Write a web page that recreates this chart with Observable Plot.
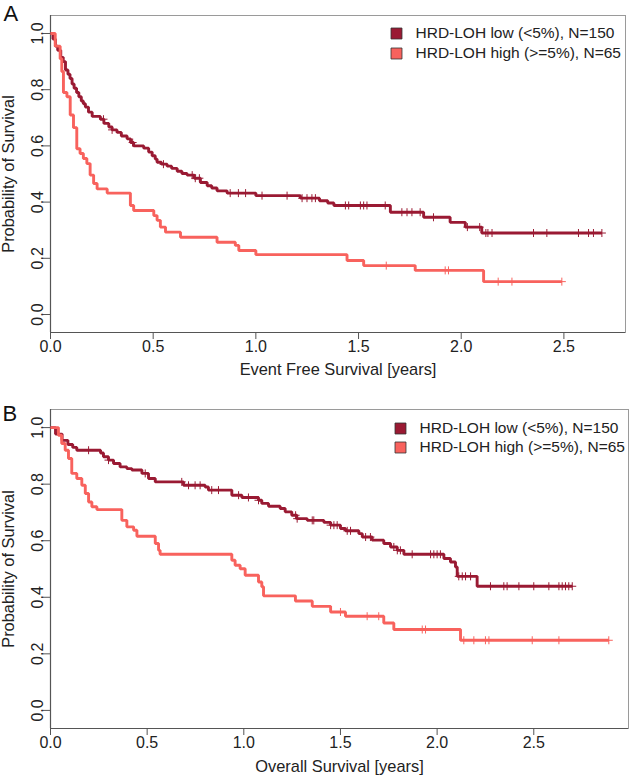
<!DOCTYPE html>
<html>
<head>
<meta charset="utf-8">
<script src="https://cdn.jsdelivr.net/npm/d3@7"></script>
<script src="https://cdn.jsdelivr.net/npm/@observablehq/plot@0.6"></script>
<style>
  html, body { margin: 0; padding: 0; background: #fff; }
  #chart { width: 633px; }
  #chart svg { display: block; }
</style>
</head>
<body>
<div id="chart"></div>
<script>
// ---------- Data ----------
const seriesNames = ["HRD-LOH low (<5%), N=150", "HRD-LOH high (>=5%), N=65"];
const seriesColors = ["#9A1A33", "#F8625D"];
const xTicks = [0, 0.5, 1.0, 1.5, 2.0, 2.5];
const yTicks = [0, 0.2, 0.4, 0.6, 0.8, 1.0];

// Panel A: Event Free Survival
const aLowT = [0, 0.012, 0.024, 0.035, 0.05, 0.062, 0.073, 0.085, 0.095, 0.105, 0.115, 0.127, 0.138, 0.15, 0.16, 0.17, 0.185, 0.203, 0.243, 0.26, 0.284, 0.30, 0.324, 0.345, 0.373, 0.39, 0.405, 0.454, 0.478, 0.495, 0.51, 0.519, 0.54, 0.568, 0.59, 0.617, 0.64, 0.665, 0.70, 0.73, 0.763, 0.785, 0.811, 0.86, 1.0, 1.217, 1.31, 1.35, 1.38, 1.655, 1.817, 1.946, 2.02, 2.10];
const aLowS = [1.0, 0.98, 0.955, 0.94, 0.915, 0.90, 0.87, 0.855, 0.84, 0.82, 0.805, 0.79, 0.775, 0.76, 0.75, 0.738, 0.72, 0.705, 0.695, 0.68, 0.667, 0.657, 0.648, 0.635, 0.625, 0.612, 0.60, 0.592, 0.578, 0.565, 0.553, 0.542, 0.535, 0.528, 0.52, 0.51, 0.502, 0.496, 0.485, 0.47, 0.458, 0.45, 0.44, 0.432, 0.423, 0.414, 0.405, 0.397, 0.388, 0.364, 0.346, 0.328, 0.311, 0.29];
const aLowCens = [0.258, 0.30, 0.40, 0.55, 0.69, 0.705, 0.725, 0.875, 0.915, 0.95, 1.03, 1.152, 1.225, 1.249, 1.273, 1.29, 1.436, 1.452, 1.509, 1.525, 1.541, 1.63, 1.711, 1.736, 1.76, 1.80, 1.865, 2.03, 2.09, 2.12, 2.13, 2.15, 2.352, 2.417, 2.571, 2.62, 2.644, 2.685];

const aHighT = [0, 0.023, 0.047, 0.055, 0.063, 0.08, 0.096, 0.112, 0.128, 0.144, 0.16, 0.177, 0.193, 0.21, 0.227, 0.276, 0.389, 0.405, 0.503, 0.519, 0.535, 0.56, 0.633, 0.811, 0.90, 0.917, 1.0, 1.444, 1.525, 1.776, 2.109];
const aHighS = [1.0, 0.955, 0.91, 0.865, 0.79, 0.775, 0.71, 0.665, 0.59, 0.573, 0.555, 0.537, 0.496, 0.466, 0.447, 0.432, 0.388, 0.37, 0.352, 0.335, 0.311, 0.293, 0.275, 0.257, 0.246, 0.228, 0.213, 0.192, 0.174, 0.157, 0.117];
const aHighCens = [1.635, 1.922, 1.938, 2.18, 2.247, 2.49];

// Panel B: Overall Survival
const bLowT = [0, 0.026, 0.06, 0.09, 0.115, 0.136, 0.259, 0.274, 0.30, 0.326, 0.36, 0.395, 0.421, 0.473, 0.507, 0.542, 0.688, 0.80, 0.817, 0.938, 0.99, 1.076, 1.093, 1.128, 1.188, 1.214, 1.248, 1.274, 1.328, 1.414, 1.449, 1.50, 1.526, 1.595, 1.613, 1.664, 1.724, 1.759, 1.794, 1.828, 2.035, 2.069, 2.095, 2.104, 2.207];
const bLowS = [1.0, 0.977, 0.955, 0.94, 0.93, 0.92, 0.91, 0.897, 0.885, 0.873, 0.861, 0.855, 0.85, 0.838, 0.82, 0.808, 0.796, 0.79, 0.779, 0.761, 0.753, 0.743, 0.732, 0.722, 0.714, 0.702, 0.69, 0.678, 0.672, 0.665, 0.655, 0.643, 0.635, 0.625, 0.613, 0.602, 0.59, 0.578, 0.566, 0.552, 0.537, 0.525, 0.507, 0.474, 0.439];
const bLowCens = [0.197, 0.30, 0.49, 0.679, 0.714, 0.748, 0.774, 0.834, 0.869, 0.973, 1.024, 1.076, 1.268, 1.276, 1.354, 1.362, 1.449, 1.466, 1.483, 1.535, 1.552, 1.63, 1.655, 1.776, 1.794, 1.81, 1.871, 1.966, 1.983, 2.0, 2.017, 2.112, 2.13, 2.147, 2.173, 2.276, 2.345, 2.362, 2.423, 2.50, 2.578, 2.63, 2.647, 2.664, 2.681, 2.699];

const bHighT = [0, 0.041, 0.058, 0.076, 0.093, 0.11, 0.136, 0.162, 0.18, 0.197, 0.214, 0.24, 0.369, 0.395, 0.43, 0.447, 0.542, 0.559, 0.567, 0.938, 0.955, 0.981, 1.007, 1.076, 1.093, 1.102, 1.267, 1.354, 1.449, 1.526, 1.724, 1.776, 2.121];
const bHighS = [1.0, 0.973, 0.944, 0.92, 0.891, 0.838, 0.82, 0.796, 0.767, 0.737, 0.72, 0.71, 0.672, 0.649, 0.637, 0.616, 0.59, 0.566, 0.552, 0.531, 0.513, 0.501, 0.478, 0.454, 0.437, 0.405, 0.387, 0.368, 0.348, 0.333, 0.309, 0.286, 0.248];
const bHighCens = [1.50, 1.638, 1.698, 1.923, 1.94, 2.138, 2.19, 2.25, 2.268, 2.492, 2.63, 2.888];

// ---------- Helpers ----------
function stepRows(T, S, C, group) {
  const end = Math.max(T[T.length - 1], ...C);
  const rows = T.map((t, i) => ({t, s: S[i], group}));
  rows.push({t: end, s: S[S.length - 1], group});
  return rows;
}
function censRows(T, S, C, group) {
  return C.map(c => ({t: c, s: S[Math.max(0, d3.bisectRight(T, c) - 1)], group}));
}

const FONT = "'Liberation Sans', Arial, Helvetica, sans-serif";
const Y_DOMAIN = [-0.064, 1.064];

function legendMarks(o) {
  const marks = [];
  seriesNames.forEach((name, i) => {
    marks.push(Plot.dot([name], {frameAnchor: "top-right", dx: o.legSqDx, dy: o.legDy[i], fill: seriesColors[i], symbol: "square", r: 6.2, stroke: "#333", strokeWidth: 0.8}));
    marks.push(Plot.text([name], {frameAnchor: "top-right", dx: o.legTxDx, dy: o.legDy[i], textAnchor: "start", lineAnchor: "middle", fontSize: 15.5, fill: "#222"}));
  });
  return marks;
}

function panel(o) {
  const lines = [
    ...stepRows(o.lowT, o.lowS, o.lowC, seriesNames[0]),
    ...stepRows(o.highT, o.highS, o.highC, seriesNames[1])
  ];
  const cens = [
    ...censRows(o.lowT, o.lowS, o.lowC, seriesNames[0]),
    ...censRows(o.highT, o.highS, o.highC, seriesNames[1])
  ];
  return Plot.plot({
    width: 633,
    height: o.height,
    marginLeft: 50,
    marginRight: o.marginRight,
    marginTop: o.marginTop,
    marginBottom: o.marginBottom,
    style: {fontFamily: FONT, fontSize: "16px", color: "#222", background: "#fff", overflow: "visible"},
    x: {domain: [0, o.xMax]},
    y: {domain: Y_DOMAIN},
    color: {domain: seriesNames, range: seriesColors},
    marks: [
      Plot.frame({stroke: "#9a9a9a", strokeWidth: 1}),
      Plot.ruleX([0], {stroke: "#555", strokeWidth: 1.2}),
      Plot.ruleY([Y_DOMAIN[0]], {stroke: "#555", strokeWidth: 1.2}),
      Plot.axisX({ticks: xTicks, tickFormat: d3.format(".1f"), tickSize: 7, tickPadding: 1, stroke: "#555", label: null, fontSize: 16}),
      Plot.axisY({ticks: yTicks, tickFormat: d3.format(".1f"), tickSize: 7, tickPadding: 1, tickRotate: -90, stroke: "#555", label: null, fontSize: 16}),
      Plot.text([o.xLabel], {frameAnchor: "bottom", dy: o.xLabelDy, lineAnchor: "middle", fontSize: 16.4, fill: "#222"}),
      Plot.text(["Probability of Survival"], {frameAnchor: "left", dx: -42, rotate: -90, textAnchor: "middle", lineAnchor: "middle", fontSize: 16.4, fill: "#222"}),
      Plot.text([o.letter], {frameAnchor: "top-left", dx: o.letterDx, dy: o.letterDy, textAnchor: "start", lineAnchor: "bottom", fontSize: 22, fill: "#111"}),
      Plot.line(lines, {x: "t", y: "s", z: "group", stroke: "group", curve: "step-after", strokeWidth: 2.9, strokeLinejoin: "miter", strokeLinecap: "butt"}),
      Plot.dot(cens, {x: "t", y: "s", stroke: "group", symbol: "plus", r: 2.7, strokeWidth: 1}),
      ...legendMarks(o)
    ]
  });
}

const chart = document.getElementById("chart");
chart.append(panel({
  letter: "A", xLabel: "Event Free Survival [years]",
  lowT: aLowT, lowS: aLowS, lowC: aLowCens,
  highT: aHighT, highS: aHighS, highC: aHighCens,
  xMax: 2.80, height: 380, marginTop: 15, marginBottom: 48, marginRight: 8,
  xLabelDy: 37, letterDx: -47, letterDy: 5,
  legSqDx: -229, legTxDx: -210, legDy: [18, 38]
}));
chart.append(panel({
  letter: "B", xLabel: "Overall Survival [years]",
  lowT: bLowT, lowS: bLowS, lowC: bLowCens,
  highT: bHighT, highS: bHighS, highC: bHighCens,
  xMax: 2.99, height: 397, marginTop: 29, marginBottom: 49, marginRight: 5,
  xLabelDy: 38, letterDx: -48, letterDy: 11,
  legSqDx: -228, legTxDx: -209, legDy: [19, 38]
}));
</script>
</body>
</html>
